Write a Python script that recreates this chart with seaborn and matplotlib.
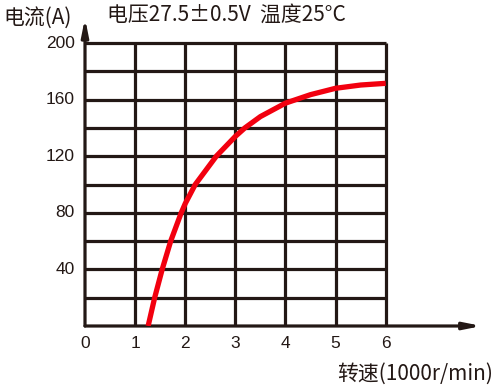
import matplotlib
matplotlib.use("Agg")
import matplotlib.pyplot as plt
import seaborn as sns
import pandas as pd

# data
speed = [1.26, 1.39, 1.54, 1.71, 1.92, 2.00, 2.20, 2.62, 3.00, 3.19, 3.50, 4.00, 4.50, 5.00, 5.50, 6.00]
current = [0, 20, 40, 60, 80, 86.5, 100, 120, 134, 140, 148, 157.5, 163.5, 168, 170.3, 171.5]
x_ticks = [0, 1, 2, 3, 4, 5, 6]
y_ticks = [40, 80, 120, 160, 200]
y_grid = [20, 40, 60, 80, 100, 120, 140, 160, 180, 200]

sns.set_style("white")
plt.rcParams['font.family'] = ['Noto Sans CJK SC', 'DejaVu Sans']

W, H = 496, 388
fig = plt.figure(figsize=(W / 100, H / 100), dpi=100)
x0, y0 = 85, 326
x_tip, y_tip = 481.7, 18
ax = fig.add_axes([x0 / W, (H - y0) / H, (x_tip - x0) / W, (y0 - y_tip) / H])
px_per_x = (385.7 - 85) / 6
px_per_y = (326 - 43) / 200
ax.set_xlim(0, (x_tip - x0) / px_per_x)
ax.set_ylim(0, (y0 - y_tip) / px_per_y)
for s in ax.spines.values():
    s.set_visible(False)
ax.set_xticks([])
ax.set_yticks([])

dark = '#231815'
lw = 2.3
for yv in y_grid:
    ax.hlines(yv, 0, 6, color=dark, lw=lw, zorder=1)
for xv in x_ticks[1:]:
    ax.vlines(xv, 0, 200, color=dark, lw=lw, zorder=1)

xmax = ax.get_xlim()[1]
ymax = ax.get_ylim()[1]
ax.annotate('', xy=(xmax, 0), xytext=(0, 0),
            arrowprops=dict(arrowstyle='-|>,head_length=1.0,head_width=0.2',
                            color=dark, lw=lw, shrinkA=0, shrinkB=0, mutation_scale=10),
            annotation_clip=False, zorder=2)
ax.annotate('', xy=(0, ymax), xytext=(0, 0),
            arrowprops=dict(arrowstyle='-|>,head_length=1.0,head_width=0.2',
                            color=dark, lw=lw, shrinkA=0, shrinkB=0, mutation_scale=10),
            annotation_clip=False, zorder=2)

df = pd.DataFrame({'speed': speed, 'current': current})
sns.lineplot(data=df, x='speed', y='current', ax=ax, color='#f2000f', lw=3.8,
             zorder=3, solid_capstyle='butt', solid_joinstyle='round', sort=False)
ax.set_xlabel('')
ax.set_ylabel('')

tick_font = ['Liberation Sans', 'DejaVu Sans']
for xv in x_ticks:
    ax.text(xv, -12.5, str(xv), ha='center', va='center', fontsize=12.5,
            family=tick_font, color=dark)
for yv in y_ticks:
    ax.text(-0.2, yv, str(yv), ha='right', va='center', fontsize=12.5,
            family=tick_font, color=dark)

fig.text(3 / W, 1 - 17.5 / H, '电流(A)', ha='left', va='center', fontsize=15, color=dark)
fig.text(107 / W, 1 - 14.5 / H, '电压27.5±0.5V  温度25°C', ha='left', va='center',
         fontsize=15, color=dark)
fig.text(493 / W, 1 - 374 / H, '转速(1000r/min)', ha='right', va='center',
         fontsize=15, color=dark)

fig.savefig('out.png', dpi=100)
